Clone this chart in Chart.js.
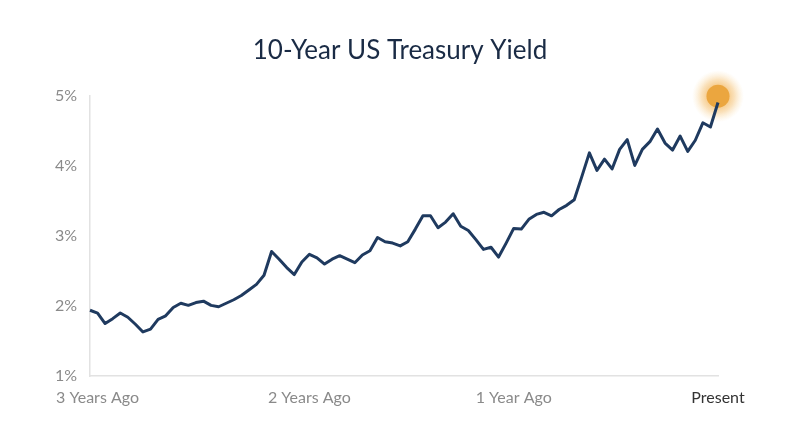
<!DOCTYPE html>
<html>
<head>
<meta charset="utf-8">
<script src="https://cdn.jsdelivr.net/npm/chart.js@4"></script>
<style>
  html, body { margin: 0; padding: 0; background: #fff; }
  #wrap { width: 800px; height: 447px; }
</style>
</head>
<body>
<div id="wrap"><canvas id="myChart"></canvas></div>
<script>
// data, roughly two-week steps over three years
const yields = [
  1.94, 1.90, 1.75, 1.82, 1.90, 1.84, 1.74, 1.63, 1.67, 1.81,
  1.86, 1.98, 2.04, 2.01, 2.05, 2.07, 2.01, 1.99, 2.04, 2.09,
  2.15, 2.23, 2.31, 2.44, 2.78, 2.67, 2.55, 2.45, 2.63, 2.74,
  2.69, 2.60, 2.67, 2.72, 2.67, 2.62, 2.73, 2.79, 2.98, 2.92,
  2.90, 2.86, 2.92, 3.10, 3.29, 3.29, 3.12, 3.20, 3.32, 3.14,
  3.08, 2.95, 2.81, 2.84, 2.70, 2.90, 3.11, 3.10, 3.24, 3.31,
  3.34, 3.29, 3.38, 3.44, 3.52, 3.85, 4.19, 3.94, 4.10, 3.96,
  4.24, 4.38, 4.01, 4.24, 4.35, 4.53, 4.33, 4.23, 4.43, 4.21,
  4.37, 4.62, 4.56, 4.91
];
const currentYield = 5.0;
const tickLabels = ['3 Years Ago', '2 Years Ago', '1 Year Ago', 'Present'];
const tickIndex = [1, 29, 56, 83];
const yMin = 1, yMax = 5;

const last = yields.length - 1;
const labels = yields.map((v, i) => {
  const k = tickIndex.indexOf(i);
  return k >= 0 ? tickLabels[k] : '';
});
const dotData = yields.map((v, i) => (i === last ? currentYield : null));

// soft orange glow behind the end dot
const glow = {
  id: 'glow',
  beforeDatasetsDraw(chart) {
    const pt = chart.getDatasetMeta(1).data[last];
    if (!pt) return;
    const ctx = chart.ctx;
    ctx.save();
    const g = ctx.createRadialGradient(pt.x, pt.y, 10, pt.x, pt.y, 26);
    g.addColorStop(0, 'rgba(244,188,105,0.8)');
    g.addColorStop(0.4, 'rgba(246,200,130,0.55)');
    g.addColorStop(1, 'rgba(250,225,180,0)');
    ctx.fillStyle = g;
    ctx.beginPath();
    ctx.arc(pt.x, pt.y, 26, 0, Math.PI * 2);
    ctx.fill();
    ctx.restore();
  }
};

const config = {
  type: 'line',
  data: {
    labels,
    datasets: [
      {
        data: yields,
        borderColor: '#1f3a5f',
        borderWidth: 3,
        tension: 0,
        pointRadius: 0,
        borderJoinStyle: 'round',
        clip: false,
        order: 0
      },
      {
        data: dotData,
        pointRadius: 11.5,
        pointBackgroundColor: '#eba63f',
        pointBorderWidth: 0,
        showLine: false,
        clip: false,
        order: 1
      }
    ]
  },
  options: {
    responsive: true,
    maintainAspectRatio: false,
    animation: false,
    layout: { padding: { left: 0, right: 0, top: 0, bottom: 30 } },
    plugins: {
      legend: { display: false },
      tooltip: { enabled: false },
      title: {
        display: true,
        text: '10-Year US Treasury Yield',
        color: '#1a2b45',
        font: { family: 'Lato', size: 26, weight: 'normal' },
        padding: { top: 35, bottom: 30 }
      }
    },
    scales: {
      x: {
        offset: false,
        grid: { display: false, drawTicks: false },
        border: { display: true, color: '#e2e2e2', width: 1.5 },
        ticks: {
          autoSkip: false,
          maxRotation: 0,
          padding: 12,
          color: ctx => (ctx.index === last ? '#333333' : '#8a8a8a'),
          font: { family: 'Lato', size: 16 },
          callback: (v, i) => labels[i]
        },
        afterFit: s => { s.height = 41; }
      },
      y: {
        min: yMin,
        max: yMax,
        grid: { display: false, drawTicks: false },
        border: { display: true, color: '#e2e2e2', width: 1.5 },
        ticks: {
          stepSize: 1,
          padding: 13,
          color: '#8a8a8a',
          font: { family: 'Lato', size: 16 },
          callback: v => v + '%'
        },
        afterFit: s => { s.width = 90; }
      },
      // empty right-hand spacer so the plot ends at the same place as the reference
      spacer: {
        type: 'linear',
        position: 'right',
        grid: { display: false, drawTicks: false },
        border: { display: false },
        ticks: { display: false },
        afterFit: s => { s.width = 82; }
      }
    }
  },
  plugins: [glow]
};

const myChart = new Chart(document.getElementById('myChart'), config);
</script>
</body>
</html>
